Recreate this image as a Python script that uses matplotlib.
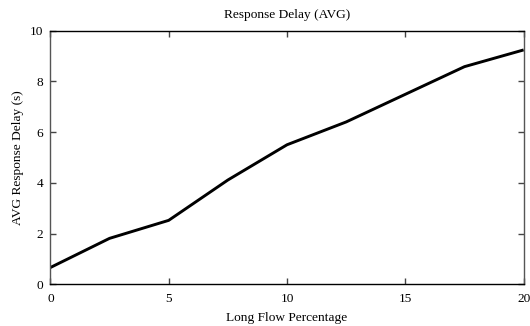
import matplotlib
matplotlib.use("Agg")
import matplotlib.pyplot as plt

plt.rcParams['font.family'] = ['Liberation Serif', 'DejaVu Serif']

# data
flowPercent = [0, 2.5, 5, 7.5, 10, 12.5, 15, 17.5, 20]
avgDelay = [0.66, 1.81, 2.52, 4.11, 5.5, 6.40, 7.49, 8.58, 9.24]
xTicks = [0, 5, 10, 15, 20]
yTicks = [0, 2, 4, 6, 8, 10]

fs = 9.6

fig = plt.figure(figsize=(5.3, 3.26), dpi=100)
ax = fig.add_axes([0.095, 0.128, 0.893, 0.778])

ax.plot(flowPercent, avgDelay, color='black', linewidth=2.1, solid_capstyle='butt')

ax.set_xlim(0, 20)
ax.set_ylim(0, 10)
ax.set_xticks(xTicks)
ax.set_yticks(yTicks)
ax.tick_params(direction='in', length=4.3, width=1, color='#444444',
               top=True, right=True, labelsize=fs)
ax.tick_params(axis='x', pad=6)
ax.tick_params(axis='y', pad=5)

for side in ['left', 'right']:
    ax.spines[side].set_color('#555555')
for spine in ax.spines.values():
    spine.set_linewidth(1)

ax.set_title('Response Delay (AVG)', fontsize=fs, pad=9)
ax.set_xlabel('Long Flow Percentage', fontsize=fs, labelpad=5)
ax.set_ylabel('AVG Response Delay (s)', fontsize=fs, labelpad=4)

fig.savefig('out.png', dpi=100)
